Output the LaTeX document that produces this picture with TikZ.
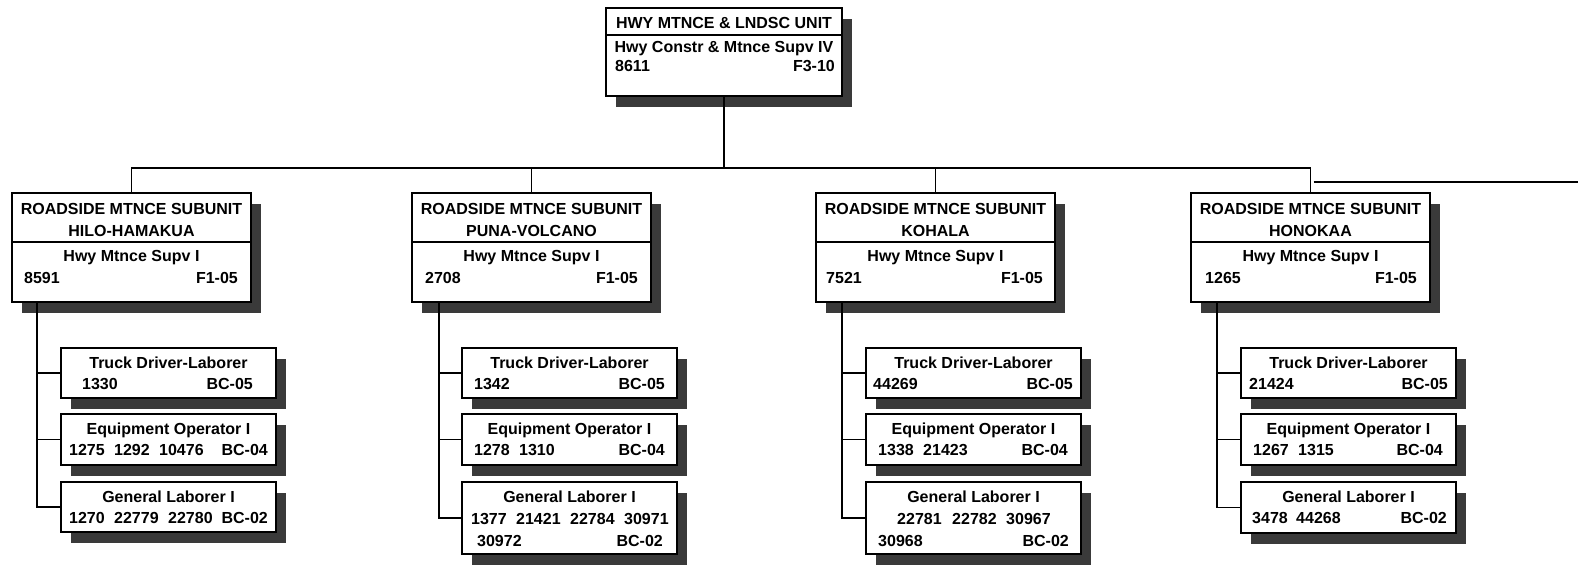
\documentclass[tikz,border=0pt]{standalone}
\usepackage{fontspec}
\setmainfont{Liberation Sans}
\usetikzlibrary{shadows}
\definecolor{shadowc}{HTML}{3A3A3A}
\newcommand\boxat[5]{\node[box, minimum width=#4pt, minimum height=#5pt] (#1) at (#2,#3) {};}
\newcommand\tl[4]{\node[txt, anchor=base west] (#1) at (#2,#3) {#4};}
\newcommand\tr[4]{\node[txt, anchor=base east] (#1) at (#2,#3) {#4};}
\newcommand\tc[4]{\node[txt, anchor=base] (#1) at (#2,#3) {#4};}
\begin{document}
\begin{tikzpicture}[x=1pt,y=-1pt,
  box/.style={draw=black, line width=1.6pt, fill=white, anchor=north west, inner sep=0pt, outer sep=0pt,
    general shadow={fill=shadowc, shadow xshift=10pt, shadow yshift=-11pt}},
  txt/.style={inner sep=0pt, font=\fontsize{16}{19}\selectfont\bfseries},
  lnk/.style={line width=1.7pt, draw=black},
  dv/.style={line width=1.3pt, draw=black}]
\useasboundingbox (0,0) rectangle (1580,565);

% ---------- top unit ----------
\boxat{top}{606}{8}{236}{88}
\draw[dv] ([yshift=-27pt]top.north west) -- ([yshift=-27pt]top.north east);
\tc{t1}{724}{28}{HWY MTNCE \& LNDSC UNIT}
\tc{t2}{724}{52}{Hwy Constr \& Mtnce Supv IV}
\tl{t3}{615}{71}{8611}
\tr{t4}{835}{71}{F3-10}

% ---------- subunits ----------
\boxat{s1}{12}{193}{239}{109}
\boxat{s2}{412}{193}{239}{109}
\boxat{s3}{816}{193}{239}{109}
\boxat{s4}{1191}{193}{239}{109}
\foreach \s in {s1,s2,s3,s4}{
  \draw[dv] ([yshift=-49pt]\s.north west) -- ([yshift=-49pt]\s.north east);
}
\tc{s1a}{131.5}{214}{ROADSIDE MTNCE SUBUNIT}
\tc{s1b}{131.5}{236}{HILO-HAMAKUA}
\tc{s1c}{131.5}{261}{Hwy Mtnce Supv I}
\tl{s1d}{24}{283}{8591}
\tr{s1e}{238}{283}{F1-05}

\tc{s2a}{531.5}{214}{ROADSIDE MTNCE SUBUNIT}
\tc{s2b}{531.5}{236}{PUNA-VOLCANO}
\tc{s2c}{531.5}{261}{Hwy Mtnce Supv I}
\tl{s2d}{425}{283}{2708}
\tr{s2e}{638}{283}{F1-05}

\tc{s3a}{935.5}{214}{ROADSIDE MTNCE SUBUNIT}
\tc{s3b}{935.5}{236}{KOHALA}
\tc{s3c}{935.5}{261}{Hwy Mtnce Supv I}
\tl{s3d}{826}{283}{7521}
\tr{s3e}{1043}{283}{F1-05}

\tc{s4a}{1310.5}{214}{ROADSIDE MTNCE SUBUNIT}
\tc{s4b}{1310.5}{236}{HONOKAA}
\tc{s4c}{1310.5}{261}{Hwy Mtnce Supv I}
\tl{s4d}{1205}{283}{1265}
\tr{s4e}{1417}{283}{F1-05}

% ---------- column 1 ----------
\boxat{c11}{61}{348}{215}{50}
\boxat{c12}{61}{414}{215}{51}
\boxat{c13}{61}{482}{215}{50}
\tc{c11a}{168.5}{368}{Truck Driver-Laborer}
\tl{c11b}{82}{389.5}{1330}
\tr{c11c}{253}{389.5}{BC-05}
\tc{c12a}{168.5}{434}{Equipment Operator I}
\tl{c12b}{69}{455.5}{1275}
\tl{c12c}{114}{455.5}{1292}
\tl{c12d}{159}{455.5}{10476}
\tr{c12e}{268}{455.5}{BC-04}
\tc{c13a}{168.5}{502}{General Laborer I}
\tl{c13b}{69}{523.5}{1270}
\tl{c13c}{114}{523.5}{22779}
\tl{c13d}{168}{523.5}{22780}
\tr{c13e}{268}{523.5}{BC-02}

% ---------- column 2 ----------
\boxat{c21}{462}{348}{215}{50}
\boxat{c22}{462}{414}{215}{51}
\boxat{c23}{462}{482}{215}{72}
\tc{c21a}{569.5}{368}{Truck Driver-Laborer}
\tl{c21b}{474}{389.5}{1342}
\tr{c21c}{665}{389.5}{BC-05}
\tc{c22a}{569.5}{434}{Equipment Operator I}
\tl{c22b}{474}{455.5}{1278}
\tl{c22c}{519}{455.5}{1310}
\tr{c22d}{665}{455.5}{BC-04}
\tc{c23a}{569.5}{502}{General Laborer I}
\tl{c23b}{471}{524}{1377}
\tl{c23c}{516}{524}{21421}
\tl{c23d}{570}{524}{22784}
\tl{c23e}{624}{524}{30971}
\tl{c23f}{477}{546}{30972}
\tr{c23g}{663}{546}{BC-02}

% ---------- column 3 ----------
\boxat{c31}{866}{348}{215}{50}
\boxat{c32}{866}{414}{215}{51}
\boxat{c33}{866}{482}{215}{72}
\tc{c31a}{973.5}{368}{Truck Driver-Laborer}
\tl{c31b}{873}{389.5}{44269}
\tr{c31c}{1073}{389.5}{BC-05}
\tc{c32a}{973.5}{434}{Equipment Operator I}
\tl{c32b}{878}{455.5}{1338}
\tl{c32c}{923}{455.5}{21423}
\tr{c32d}{1068}{455.5}{BC-04}
\tc{c33a}{973.5}{502}{General Laborer I}
\tl{c33b}{897}{524}{22781}
\tl{c33c}{952}{524}{22782}
\tl{c33d}{1006}{524}{30967}
\tl{c33e}{878}{546}{30968}
\tr{c33f}{1069}{546}{BC-02}

% ---------- column 4 ----------
\boxat{c41}{1241}{348}{215}{50}
\boxat{c42}{1241}{414}{215}{51}
\boxat{c43}{1241}{482}{215}{51}
\tc{c41a}{1348.5}{368}{Truck Driver-Laborer}
\tl{c41b}{1249}{389.5}{21424}
\tr{c41c}{1448}{389.5}{BC-05}
\tc{c42a}{1348.5}{434}{Equipment Operator I}
\tl{c42b}{1253}{455.5}{1267}
\tl{c42c}{1298}{455.5}{1315}
\tr{c42d}{1443}{455.5}{BC-04}
\tc{c43a}{1348.5}{502}{General Laborer I}
\tl{c43b}{1252}{523.5}{3478}
\tl{c43c}{1296}{523.5}{44268}
\tr{c43d}{1447}{523.5}{BC-02}

% ---------- connectors ----------
\coordinate (busy) at (0,168);
\draw[lnk] (top.south) -- (top.south |- busy);
\draw[lnk] (s1.north) -- (s1.north |- busy) -- (s4.north |- busy) -- (s4.north);
\draw[lnk] (s2.north |- busy) -- (s2.north);
\draw[lnk] (s3.north |- busy) -- (s3.north);
\coordinate (conty) at (0,182);
\coordinate (contend) at (1578,182);
\draw[lnk] ([xshift=3pt]s4.north |- conty) -- (contend);

\foreach \c/\x in {1/37,2/439,3/842,4/1217}{
  \coordinate (v\c) at (\x,0);
  \draw[lnk] (s\c.south -| v\c) |- (c\c3.west);
  \draw[lnk] (c\c1.west -| v\c) -- (c\c1.west);
  \draw[lnk] (c\c2.west -| v\c) -- (c\c2.west);
}
\end{tikzpicture}
\end{document}
